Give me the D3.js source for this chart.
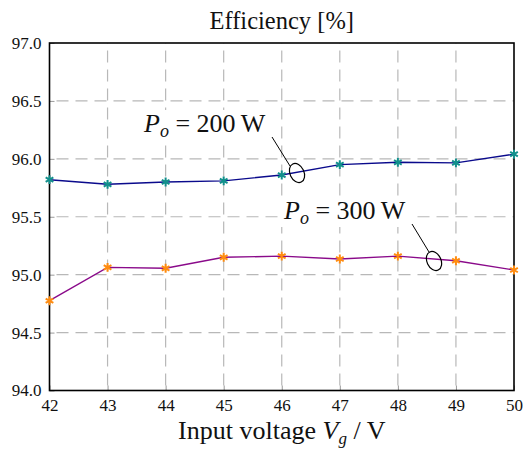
<!DOCTYPE html>
<html>
<head>
<meta charset="UTF-8">
<script src="https://cdn.jsdelivr.net/npm/d3@7"></script>
</head>
<body style="margin:0">
<script>
const voltages = [42, 43, 44, 45, 46, 47, 48, 49, 50];
const eff200 = [95.82, 95.78, 95.80, 95.81, 95.86, 95.95, 95.97, 95.965, 96.04];
const eff300 = [94.775, 95.063, 95.055, 95.15, 95.16, 95.135, 95.16, 95.12, 95.04];
const yTicks = [94.0, 94.5, 95.0, 95.5, 96.0, 96.5, 97.0];

const width = 523, height = 449;
const margin = {left: 49.5, right: 9, top: 43, bottom: 58.5};
const serif = "'Liberation Serif'";

const svg = d3.select('body').append('svg')
    .attr('width', width).attr('height', height);

const x = d3.scaleLinear().domain([42, 50]).range([margin.left, width - margin.right]);
const y = d3.scaleLinear().domain([94, 97]).range([height - margin.bottom, margin.top]);

// grid
const gridColor = '#b8b8b8';
svg.append('g').selectAll('line').data(voltages.slice(1, -1)).join('line')
    .attr('x1', d => x(d)).attr('x2', d => x(d))
    .attr('y1', y(94)).attr('y2', y(97))
    .attr('stroke', gridColor).attr('stroke-width', 1.2)
    .attr('stroke-dasharray', '12,7').attr('stroke-dashoffset', -5);
svg.append('g').selectAll('line').data(yTicks.slice(1, -1)).join('line')
    .attr('x1', x(42)).attr('x2', x(50))
    .attr('y1', d => y(d)).attr('y2', d => y(d))
    .attr('stroke', gridColor).attr('stroke-width', 1.2)
    .attr('stroke-dasharray', '12,7').attr('stroke-dashoffset', -7);

// axes
const xAxis = svg.append('g').attr('transform', `translate(0,${y(94)})`)
    .call(d3.axisBottom(x).tickValues(voltages).tickFormat(d3.format('d')).tickSizeInner(-5).tickSizeOuter(0).tickPadding(8));
const yAxis = svg.append('g').attr('transform', `translate(${x(42)},0)`)
    .call(d3.axisLeft(y).tickValues(yTicks).tickFormat(d3.format('.1f')).tickSizeInner(-5).tickSizeOuter(0).tickPadding(8));
[xAxis, yAxis].forEach(a => {
    a.attr('font-family', serif).attr('font-size', 17);
    a.select('.domain').remove();
    a.selectAll('.tick line').attr('stroke', '#999');
    a.selectAll('.tick text').attr('fill', '#111')
        .attr('font-family', serif).attr('font-size', 17);
});
svg.append('rect')
    .attr('x', x(42)).attr('y', y(97))
    .attr('width', x(50) - x(42)).attr('height', y(94) - y(97))
    .attr('fill', 'none').attr('stroke', 'black').attr('stroke-width', 1.6);

// series
const line = d3.line().x((d, i) => x(voltages[i])).y(d => y(d));
const series = [
    {values: eff200, line: '#0a0a8c', marker: '#12908c'},
    {values: eff300, line: '#8a0a8a', marker: '#ff8c10'}
];
const star = d3.symbol().type(d3.symbolAsterisk).size(55);
series.forEach(s => {
    svg.append('path').datum(s.values)
        .attr('d', line).attr('fill', 'none')
        .attr('stroke', s.line).attr('stroke-width', 1.4);
    svg.append('g').selectAll('path').data(s.values).join('path')
        .attr('d', star)
        .attr('transform', (d, i) => `translate(${x(voltages[i])},${y(d)})`)
        .attr('fill', 'none').attr('stroke', s.marker).attr('stroke-width', 2);
});

// annotations (white boxed labels with pin + ellipse)
const notes = [
    {sub: '200', tx: 144, ty: 132, lx1: 272, ly1: 137, lx2: 290, ly2: 166, ex: 297, ey: 173},
    {sub: '300', tx: 284, ty: 219, lx1: 412, ly1: 224, lx2: 429, ly2: 252, ex: 434, ey: 261}
];
notes.forEach(n => {
    svg.append('rect').attr('x', n.tx - 4).attr('y', n.ty - 22).attr('width', 132).attr('height', 30)
        .attr('fill', 'white');
    const t = svg.append('text').attr('x', n.tx).attr('y', n.ty)
        .attr('font-family', serif).attr('font-size', 26).attr('fill', '#111');
    t.append('tspan').attr('font-style', 'italic').text('P');
    t.append('tspan').attr('font-style', 'italic').attr('font-size', 18).attr('dy', 5).text('o');
    t.append('tspan').attr('dy', -5).text(` = ${n.sub}\u2009W`);
    svg.append('line').attr('x1', n.lx1).attr('y1', n.ly1).attr('x2', n.lx2).attr('y2', n.ly2)
        .attr('stroke', 'black').attr('stroke-width', 1);
    svg.append('ellipse').attr('cx', 0).attr('cy', 0).attr('rx', 7).attr('ry', 10)
        .attr('transform', `translate(${n.ex},${n.ey}) rotate(-25)`)
        .attr('fill', 'none').attr('stroke', 'black').attr('stroke-width', 1.2);
});

// title and x label
svg.append('text').attr('x', x(46)).attr('y', 29).attr('text-anchor', 'middle')
    .attr('font-family', serif).attr('font-size', 24.5).attr('fill', '#111')
    .text('Efficiency [%]');
const xl = svg.append('text').attr('x', x(46)).attr('y', 438.5).attr('text-anchor', 'middle')
    .attr('font-family', serif).attr('font-size', 26).attr('fill', '#111');
xl.append('tspan').text('Input voltage ');
xl.append('tspan').attr('font-style', 'italic').text('V');
xl.append('tspan').attr('font-style', 'italic').attr('font-size', 17).attr('dy', 5).text('g');
xl.append('tspan').attr('dy', -5).text(' / V');
</script>
</body>
</html>
